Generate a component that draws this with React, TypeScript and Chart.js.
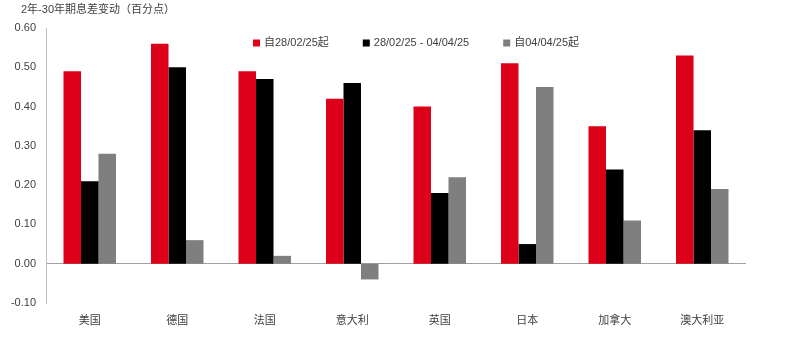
import React, { useEffect, useRef } from "react";
import { Chart, registerables } from "chart.js";

Chart.register(...registerables);

const categories = ["美国", "德国", "法国", "意大利", "英国", "日本", "加拿大", "澳大利亚"];
const seriesNames = ["自28/02/25起", "28/02/25 - 04/04/25", "自04/04/25起"];
const seriesA = [0.49, 0.56, 0.49, 0.42, 0.4, 0.51, 0.35, 0.53];
const seriesB = [0.21, 0.5, 0.47, 0.46, 0.18, 0.05, 0.24, 0.34];
const seriesC = [0.28, 0.06, 0.02, -0.04, 0.22, 0.45, 0.11, 0.19];
const titleText = "2年-30年期息差变动（百分点）";
const yMin = -0.1;
const yMax = 0.6;
const yStep = 0.1;

const colors = ["#DC0019", "#000000", "#7F7F7F"];
const FONT = "Arial, 'Liberation Sans', 'Noto Sans CJK SC', sans-serif";

const layoutTweaks = {
  id: "layoutTweaks",
  afterLayout(chart: any) {
    const tb = chart.titleBlock;
    if (tb) {
      tb.left += 21;
      tb.right += 21;
    }
  },
  afterDraw(chart: any) {
    const ctx = chart.ctx;
    const area = chart.chartArea;
    ctx.save();
    ctx.font = `11px ${FONT}`;
    const box = 7;
    const gapBoxText = 4;
    const gapItems = 34;
    const items = chart.data.datasets.map((ds: any) => ({
      label: ds.label,
      color: ds.backgroundColor,
      w: box + gapBoxText + ctx.measureText(ds.label).width,
    }));
    const total = items.reduce((s: number, it: any) => s + it.w, 0) + gapItems * (items.length - 1);
    const cx = (area.left + area.right) / 2 + 20;
    const cy = area.top + 15;
    let x = cx - total / 2;
    ctx.textBaseline = "middle";
    ctx.textAlign = "left";
    for (const it of items) {
      ctx.fillStyle = it.color;
      ctx.fillRect(x, cy - box / 2, box, box);
      ctx.fillStyle = "#404040";
      ctx.fillText(it.label, x + box + gapBoxText, cy);
      x += it.w + gapItems;
    }
    ctx.restore();
  },
};

export default function App() {
  const ref = useRef<HTMLCanvasElement | null>(null);
  useEffect(() => {
    if (!ref.current) return;
    const chart = new Chart(ref.current, {
      type: "bar",
      data: {
        labels: categories,
        datasets: [seriesA, seriesB, seriesC].map((d, i) => ({
          label: seriesNames[i],
          data: d,
          backgroundColor: colors[i],
          borderWidth: 0,
          barPercentage: 1,
          categoryPercentage: 0.6,
        })),
      },
      plugins: [layoutTweaks],
      options: {
        animation: false,
        responsive: true,
        maintainAspectRatio: false,
        layout: { padding: { left: 0, right: 42, top: 0, bottom: 0 } },
        plugins: {
          title: {
            display: true,
            text: titleText,
            align: "start",
            color: "#404040",
            font: { family: FONT, size: 11, weight: "normal" },
            padding: { top: 3, bottom: 11.8 },
          },
          legend: { display: false },
          tooltip: { enabled: false },
        },
        scales: {
          x: {
            grid: { display: false, drawTicks: false },
            border: { display: false },
            ticks: {
              color: "#404040",
              font: { family: FONT, size: 11 },
              padding: 11,
              maxRotation: 0,
            },
            afterFit: (s: any) => {
              s.height = 39;
            },
          },
          y: {
            min: yMin,
            max: yMax,
            border: { display: true, color: "#BFBFBF", width: 1 },
            grid: {
              drawTicks: false,
              color: (ctx: any) =>
                ctx.tick && Math.abs(ctx.tick.value) < 1e-9 ? "#A0A0A0" : "rgba(0,0,0,0)",
              lineWidth: 1,
            },
            ticks: {
              stepSize: yStep,
              color: "#404040",
              font: { family: FONT, size: 11 },
              padding: 10,
              callback: (v: any) => {
                const n = Number(v);
                return (Math.abs(n) < 1e-9 ? 0 : n).toFixed(2);
              },
            },
            afterFit: (s: any) => {
              s.width = 46;
            },
          },
        },
      },
    });
    return () => chart.destroy();
  }, []);
  return (
    <div style={{ position: "fixed", left: 0, top: 0, width: 788, height: 342, background: "#fff" }}>
      <canvas ref={ref} />
    </div>
  );
}
